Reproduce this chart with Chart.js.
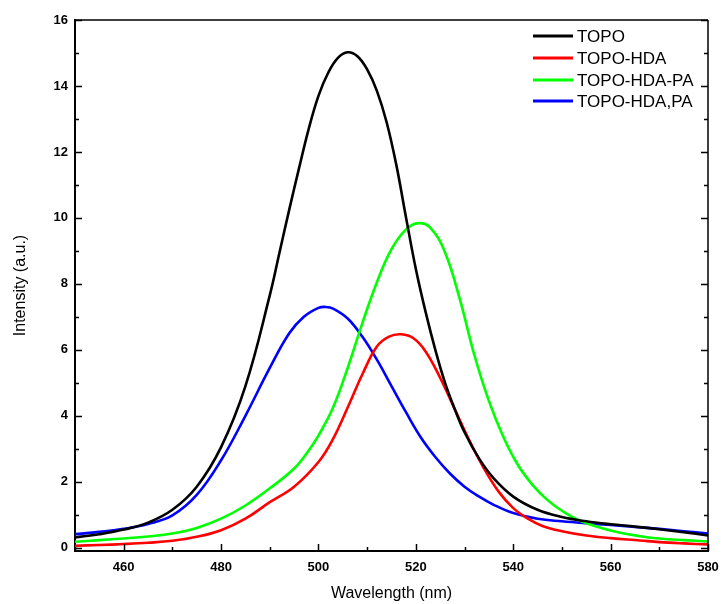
<!DOCTYPE html>
<html>
<head>
<meta charset="utf-8">
<script src="https://cdn.jsdelivr.net/npm/chart.js@4.4.1/dist/chart.umd.min.js"></script>
<style>
  html, body { margin: 0; padding: 0; background: #ffffff; }
  #wrap { width: 721px; height: 604px; }
</style>
</head>
<body>
<div id="wrap"><canvas id="c" width="721" height="604"></canvas></div>
<script>
// ---- Data ----
const seriesLabels = ["TOPO", "TOPO-HDA", "TOPO-HDA-PA", "TOPO-HDA,PA"];
const seriesColors = ["#000000", "#ff0000", "#00ff00", "#0000ff"];

const topoX = [450,455,460,465,470,475,480,485,490,492,494,496,498,500,502,504,506,508,510,512,514,516,518,520,522,524,526,528,530,533,536,540,545,550,555,560,565,570,575,580];
const topoY = [0.31,0.41,0.55,0.76,1.15,1.85,3.05,4.9,7.65,8.95,10.25,11.5,12.7,13.7,14.4,14.85,15.02,14.9,14.5,13.85,12.9,11.6,10.0,8.45,7.15,6.0,5.0,4.2,3.5,2.7,2.1,1.55,1.15,0.93,0.8,0.71,0.64,0.56,0.47,0.37];

const hdaX = [450,455,460,465,470,475,480,485,490,495,500,503,506,509,512,514.5,517,519.5,522,525,528,531,534,537,540,543,546,550,555,560,566,570,575,580];
const hdaY = [0.06,0.08,0.11,0.15,0.21,0.33,0.53,0.88,1.38,1.85,2.6,3.3,4.25,5.25,6.1,6.4,6.47,6.35,5.95,5.15,4.2,3.25,2.4,1.7,1.2,0.88,0.66,0.5,0.37,0.29,0.22,0.17,0.13,0.1];

const hdaPaX = [450,455,460,465,470,475,480,485,490,495,498,500,503,506,509,512,515,518,520.5,523,526,529,532,535,538,541,544,547,550,554,560,566,570,575,580];
const hdaPaY = [0.18,0.23,0.28,0.34,0.43,0.6,0.88,1.28,1.8,2.4,2.95,3.4,4.25,5.45,6.8,8.05,9.05,9.65,9.84,9.7,8.95,7.55,5.85,4.45,3.35,2.5,1.9,1.45,1.12,0.8,0.52,0.35,0.28,0.23,0.19];

const hdaCommaPaX = [450,455,460,465,470,475,480,485,490,494,497,500,501.5,503,506,509,512,515,518,521,524,527,530,533,536,540,545,550,555,560,565,570,575,580];
const hdaCommaPaY = [0.41,0.48,0.57,0.72,0.98,1.6,2.65,4.0,5.45,6.5,7.0,7.27,7.3,7.25,6.95,6.4,5.7,4.9,4.1,3.35,2.75,2.25,1.85,1.55,1.3,1.05,0.88,0.8,0.74,0.69,0.63,0.57,0.5,0.43];

const xTickLabels = [460,480,500,520,540,560,580];
const yTickLabels = [0,2,4,6,8,10,12,14,16];

const FONT = "'Liberation Sans', Arial, Helvetica, sans-serif";

const seriesX = [topoX, hdaX, hdaPaX, hdaCommaPaX];
const seriesY = [topoY, hdaY, hdaPaY, hdaCommaPaY];

const datasets = seriesLabels.map((lab, i) => ({
  label: lab,
  data: seriesX[i].map((x, j) => ({ x: x, y: seriesY[i][j] })),
  borderColor: seriesColors[i],
  backgroundColor: seriesColors[i],
  borderWidth: 2.6,
  pointRadius: 0,
  fill: false,
  tension: 0.4
}));

const frameTicks = {
  id: 'frameTicks',
  afterDatasetsDraw(chart) {
    const { ctx, chartArea: { left, right, top, bottom }, scales: { x, y } } = chart;
    ctx.save();
    ctx.strokeStyle = '#000';
    ctx.lineWidth = 1.5;
    ctx.beginPath();
    ctx.moveTo(left, top); ctx.lineTo(right, top);
    ctx.moveTo(right, top); ctx.lineTo(right, bottom);
    ctx.stroke();
    ctx.beginPath();
    for (let v = x.min; v <= x.max + 0.001; v += 10) {
      const px = Math.round(x.getPixelForValue(v)) + 0.5;
      const len = (v % 20 === 0) ? 7 : 4;
      ctx.moveTo(px, bottom); ctx.lineTo(px, bottom - len);
    }
    for (let v = 0; v <= 16; v += 1) {
      const py = Math.round(y.getPixelForValue(v)) + 0.5;
      const len = (v % 2 === 0) ? 7 : 4;
      ctx.moveTo(left, py); ctx.lineTo(left + len, py);
      ctx.moveTo(right, py); ctx.lineTo(right - len, py);
    }
    ctx.stroke();
    ctx.restore();
  },
  afterDraw(chart) {
    const { ctx } = chart;
    ctx.save();
    ctx.font = "17px " + FONT;
    ctx.textBaseline = 'middle';
    ctx.textAlign = 'left';
    const rows = [36, 58, 80, 101];
    chart.data.datasets.forEach((ds, i) => {
      const yy = rows[i];
      ctx.strokeStyle = ds.borderColor;
      ctx.lineWidth = 3;
      ctx.beginPath();
      ctx.moveTo(533, yy); ctx.lineTo(573, yy);
      ctx.stroke();
      ctx.fillStyle = '#000';
      ctx.fillText(ds.label, 577, yy + 1);
    });
    ctx.restore();
  }
};

new Chart(document.getElementById('c'), {
  type: 'line',
  data: { datasets: datasets },
  options: {
    responsive: false,
    animation: false,
    devicePixelRatio: 1,
    layout: { padding: { top: 20, right: 13, left: 0, bottom: 0 } },
    plugins: { legend: { display: false }, tooltip: { enabled: false } },
    scales: {
      x: {
        type: 'linear',
        min: 450, max: 580,
        afterFit(s) { s.height = 53; s.paddingLeft = 0; s.paddingRight = 0; },
        afterBuildTicks(s) { s.ticks = xTickLabels.map(v => ({ value: v })); },
        grid: { display: false, drawTicks: false },
        border: { display: true, color: '#000', width: 2 },
        ticks: { color: '#000', padding: 9, font: { family: FONT, size: 13, weight: 'bold' }, maxRotation: 0 },
        title: { display: true, text: 'Wavelength (nm)', color: '#000', font: { family: FONT, size: 16 }, padding: { top: 0, bottom: 1 } }
      },
      y: {
        type: 'linear',
        min: -0.1, max: 16,
        afterFit(s) { s.width = 75; s.paddingTop = 0; s.paddingBottom = 0; },
        afterBuildTicks(s) { s.ticks = yTickLabels.map(v => ({ value: v })); },
        grid: { display: false, drawTicks: false },
        border: { display: true, color: '#000', width: 2 },
        ticks: { color: '#000', padding: 7, font: { family: FONT, size: 13, weight: 'bold' } },
        title: { display: true, text: 'Intensity (a.u.)', color: '#000', font: { family: FONT, size: 16 }, padding: { top: 11, bottom: 0 } }
      }
    }
  },
  plugins: [frameTicks]
});
</script>
</body>
</html>
